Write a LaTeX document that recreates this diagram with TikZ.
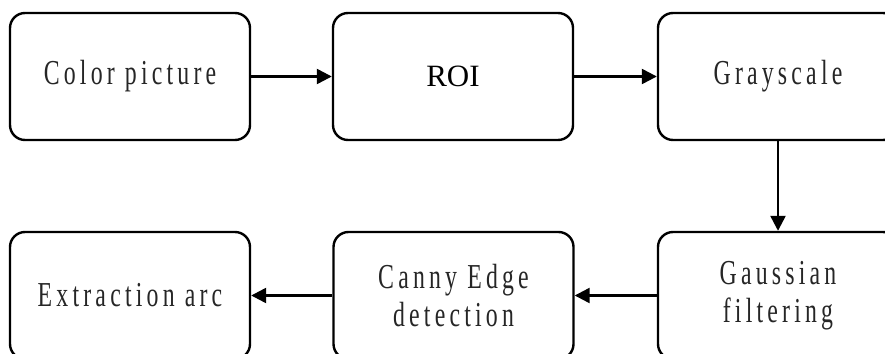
\documentclass[tikz,border=0pt]{standalone}
\usepackage{fontspec}
\setmainfont{Liberation Serif}
\newfontfamily\narrowserif[FakeStretch=0.68,LetterSpace=12]{Liberation Serif}
\usetikzlibrary{arrows.meta}
\begin{document}
\begin{tikzpicture}[x=1pt,y=-1pt,
  box/.style={draw=black,line width=2.4pt,rounded corners=15pt,fill=white,
    minimum width=240pt,minimum height=127pt,inner sep=0pt,align=center,
    font=\narrowserif\fontsize{35}{38}\selectfont,text=black!85},
  flow/.style={line width=2.4pt,-{Triangle[length=15pt,width=15pt]}}]
\useasboundingbox (0,0) rectangle (885,353);
\clip (0,0) rectangle (885,353);
\node[box] (color) at (130,76.5) {Color picture};
\node[box,font=\fontsize{31}{36}\selectfont,text=black] (roi) at (453,76.5) {ROI};
\node[box] (gray) at (778,76.5) {Grayscale};
\node[box] (extract) at (130,295.5) {Extraction arc};
\node[box] (canny) at (453.5,295.5) {Canny Edge\\detection};
\node[box] (gauss) at (778,295.5) {Gaussian\\filtering};
\draw[flow] (color.east) -- (roi.west);
\draw[flow] (roi.east) -- (gray.west);
\draw[flow] (gray.south) -- (gauss.north);
\draw[flow] (gauss.west) -- (canny.east);
\draw[flow] (canny.west) -- (extract.east);
\end{tikzpicture}
\end{document}
